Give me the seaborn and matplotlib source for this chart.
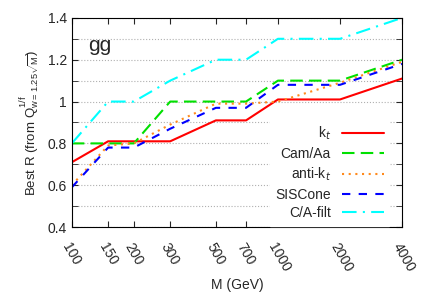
import numpy as np
import pandas as pd
import matplotlib
matplotlib.use("Agg")
import matplotlib.pyplot as plt
import seaborn as sns
from matplotlib.ticker import FixedLocator, NullLocator

# Values
masses = [100, 150, 200, 300, 500, 700, 1000, 2000, 4000]
kt = [0.71, 0.81, 0.81, 0.81, 0.91, 0.91, 1.01, 1.01, 1.11]
cam_aa = [0.80, 0.80, 0.80, 1.00, 1.00, 1.00, 1.10, 1.10, 1.20]
anti_kt = [0.60, 0.79, 0.80, 0.89, 0.99, 0.99, 1.00, 1.09, 1.19]
siscone = [0.59, 0.78, 0.78, 0.87, 0.97, 0.97, 1.08, 1.08, 1.18]
ca_filt = [0.80, 1.00, 1.00, 1.10, 1.20, 1.20, 1.30, 1.30, 1.40]

y_ticks = [0.4, 0.6, 0.8, 1.0, 1.2, 1.4]
y_ticklabels = ["0.4", "0.6", "0.8", "1", "1.2", "1.4"]

labels = ["k$_t$", "Cam/Aa", "anti-k$_t$", "SISCone", "C/A-filt"]
series = [kt, cam_aa, anti_kt, siscone, ca_filt]
colors = ["#ff0000", "#00e000", "#ff8a1c", "#0000ff", "#00ffff"]
dashes = ["", (6, 3), (1, 2.2), (4, 4), (7, 3, 1, 3)]

df = pd.concat([pd.DataFrame({"M": masses, "R": s, "alg": l})
                for l, s in zip(labels, series)], ignore_index=True)

sns.set_style("ticks")
plt.rcParams["font.family"] = ["Liberation Sans", "DejaVu Sans"]
plt.rcParams["mathtext.fontset"] = "custom"
plt.rcParams["mathtext.rm"] = "Liberation Sans"

fig = plt.figure(figsize=(4.25, 2.98), dpi=100)
ax = fig.add_axes([0.169, 0.238, 0.777, 0.702])

sns.lineplot(data=df, x="M", y="R", hue="alg", style="alg",
             palette=dict(zip(labels, colors)), dashes=dict(zip(labels, dashes)),
             linewidth=1.5, ax=ax)

ax.set_xscale("log")
ax.set_xlim(100, 4000)
ax.set_ylim(0.4, 1.4)
ax.xaxis.set_major_locator(FixedLocator(masses))
ax.xaxis.set_minor_locator(NullLocator())
ax.set_xticklabels([str(m) for m in masses], rotation=-60, ha="left", va="top",
                   rotation_mode="anchor", fontsize=10)
ax.set_yticks(y_ticks)
ax.set_yticklabels(y_ticklabels, fontsize=10)
ax.set_yticks([0.5, 0.7, 0.9, 1.1, 1.3], minor=True)
ax.tick_params(which="both", direction="in", top=True, right=True, length=4)
ax.tick_params(axis="x", pad=10)
ax.grid(axis="y", which="both", color="#b0b0b0", linestyle=":", linewidth=0.8)
for sp in ax.spines.values():
    sp.set_color("black")

ax.set_xlabel("M (GeV)", fontsize=10, labelpad=2)
ax.set_ylabel(r"Best R (from Q$\mathregular{^{1/f}_{w=1.25\sqrt{M}}}$)", fontsize=9.5)
ax.text(0.05, 0.87, "gg", transform=ax.transAxes, fontsize=15, va="center")

leg = ax.legend(loc="lower right", bbox_to_anchor=(0.965, 0.0), markerfirst=False,
                frameon=True, fontsize=10, handlelength=3.0, labelspacing=0.33,
                borderaxespad=0.1, fancybox=False)
leg.get_frame().set_facecolor("white")
leg.get_frame().set_edgecolor("white")
leg.get_frame().set_alpha(1)
for t in leg.get_texts():
    t.set_ha("right")

fig.savefig("out.png", dpi=100)
